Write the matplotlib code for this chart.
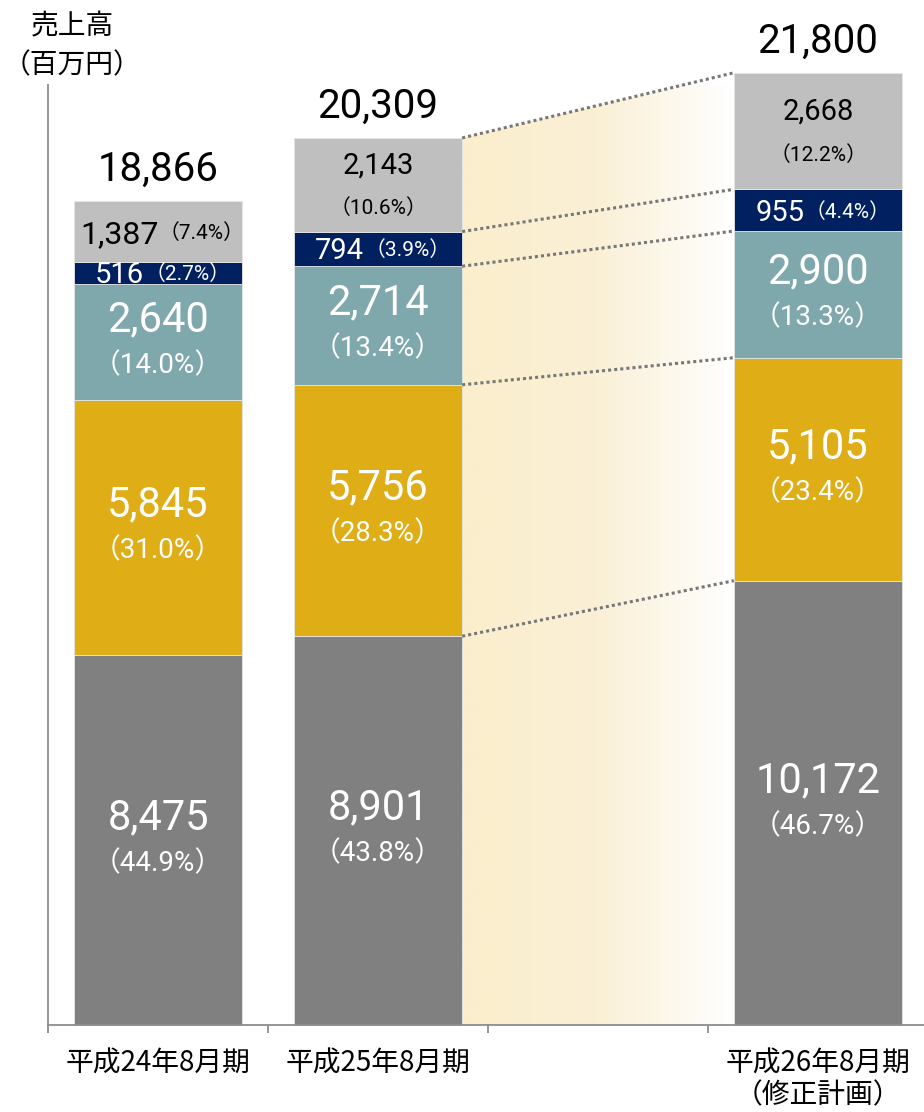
import matplotlib
matplotlib.use('Agg')
import matplotlib.pyplot as plt
import numpy as np
from matplotlib.colors import LinearSegmentedColormap
from matplotlib.patches import Polygon

# ---------------- data ----------------
periods = ['平成24年8月期', '平成25年8月期', '平成26年8月期\n（修正計画）']
positions = [0, 1, 3]
seg_gray = [8475, 8901, 10172]
seg_gold = [5845, 5756, 5105]
seg_teal = [2640, 2714, 2900]
seg_navy = [516, 794, 955]
seg_light = [1387, 2143, 2668]
pct_gray = ['44.9', '43.8', '46.7']
pct_gold = ['31.0', '28.3', '23.4']
pct_teal = ['14.0', '13.4', '13.3']
pct_navy = ['2.7', '3.9', '4.4']
pct_light = ['7.4', '10.6', '12.2']
totals = [18866, 20309, 21800]
y_title = '売上高\n（百万円）'

NUM = ['Roboto', 'Noto Sans CJK JP', 'DejaVu Sans']
JP = ['Noto Sans CJK JP', 'DejaVu Sans']
PX = 100 / 72.0

fig = plt.figure(figsize=(9.24, 11.12), dpi=100)
ax = fig.add_axes([48 / 924, 87 / 1112, 876 / 924, 940 / 1112])
XLIM = (-0.5, -0.5 + 876 / 220)
YLIM = (0, 940 / 0.04368)

W = 0.765
colors = ['#808080', '#DFAD15', '#7FA8AD', '#002060', '#BFBFBF']
series = [seg_gray, seg_gold, seg_teal, seg_navy, seg_light]
pcts = [pct_gray, pct_gold, pct_teal, pct_navy, pct_light]

bottoms = np.zeros(3)
cums = [np.zeros(3)]
for vals, c in zip(series, colors):
    ax.bar(positions, vals, width=W, bottom=bottoms, color=c, edgecolor='#E6E6E6',
           linewidth=0.6, zorder=2, clip_on=False)
    bottoms = bottoms + np.array(vals)
    cums.append(bottoms.copy())

# gradient band between bar 2 and bar 3
x0 = positions[1] + W / 2
x1 = positions[2] - W / 2
cmap = LinearSegmentedColormap.from_list('g', ['#FAEECC', '#FAF0D6', '#FFFFFF'])
grad = np.linspace(0, 1, 256).reshape(1, -1)
im = ax.imshow(grad, extent=[x0, x1, 0, cums[5][2]], aspect='auto', cmap=cmap,
               zorder=1, interpolation='bilinear')
poly = Polygon([(x0, 0), (x0, cums[5][1]), (x1, cums[5][2]), (x1, 0)],
               closed=True, transform=ax.transData, fc='none', ec='none')
im.set_clip_path(poly)
ax.set_xlim(*XLIM)
ax.set_ylim(*YLIM)

# dotted connector lines
for k in range(1, 6):
    ax.plot([x0, x1], [cums[k][1], cums[k][2]], linestyle=(0, (1, 1)), linewidth=2.2,
            color='#777777', zorder=3, clip_on=False, solid_capstyle='butt')


def put(x, y, s, size, color, dy_center_px, dx_px=0, ha='center'):
    return ax.annotate(s, (x, y), xytext=(dx_px, dy_center_px - 0.36 * size * PX),
                       textcoords='offset pixels', ha=ha, va='baseline',
                       fontsize=size, color=color, family=NUM, zorder=5,
                       annotation_clip=False)


inline = []
for i, x in enumerate(positions):
    # lower three segments: two-line labels
    for j in range(3):
        mid = (cums[j][i] + cums[j + 1][i]) / 2
        put(x, mid, f'{series[j][i]:,}', 30, 'white', 26)
        put(x, mid, f'（{pcts[j][i]}%）', 20, 'white', -21)
    # navy segment: inline label
    mid = (cums[3][i] + cums[4][i]) / 2
    t1 = put(x, mid, f'{series[3][i]:,}', 21, 'white', 0, ha='left')
    t2 = put(x, mid, f'（{pcts[3][i]}%）', 15, 'white', 0, ha='left')
    inline.append((t1, t2, 21, 15))
    # top gray segment
    mid = (cums[4][i] + cums[5][i]) / 2
    if i == 0:
        t1 = put(x, mid, f'{series[4][i]:,}', 23, 'black', 0, ha='left')
        t2 = put(x, mid, f'（{pcts[4][i]}%）', 15, 'black', 0, ha='left')
        inline.append((t1, t2, 23, 15))
    else:
        put(x, mid, f'{series[4][i]:,}', 21, 'black', 22)
        put(x, mid, f'（{pcts[4][i]}%）', 15, 'black', -22)
    # totals
    ax.annotate(f'{totals[i]:,}', (x, cums[5][i]), xytext=(0, 20),
                textcoords='offset pixels', ha='center', va='baseline',
                fontsize=29, color='black', family=NUM, annotation_clip=False)

# axes styling
for s in ['top', 'right']:
    ax.spines[s].set_visible(False)
for s in ['left', 'bottom']:
    ax.spines[s].set_color('#8C8C8C')
    ax.spines[s].set_linewidth(1.3)
ax.set_yticks([])
ax.set_xticks(positions)
ax.set_xticklabels(periods, fontsize=20, family=JP, linespacing=1.08)
ax.tick_params(axis='x', which='major', length=0, pad=17)
ax.set_xticks([-0.5, 0.5, 1.5, 2.5], minor=True)
ax.tick_params(axis='x', which='minor', length=6, width=1.3, color='#8C8C8C',
               direction='out')

fig.text(72 / 924, 1 - 46 / 1112, y_title, ha='center', va='center', fontsize=20,
         family=JP, linespacing=1.4)

fig.canvas.draw()
for t1, t2, s1, s2 in inline:
    w1 = t1.get_window_extent().width
    w2 = t2.get_window_extent().width
    total = w1 + w2 - 0.45 * s2 * PX
    y1 = t1.xyann[1]
    y2 = t2.xyann[1]
    t1.xyann = (-total / 2, y1)
    t2.xyann = (-total / 2 + w1, y2)

fig.savefig('out.png', dpi=100)
